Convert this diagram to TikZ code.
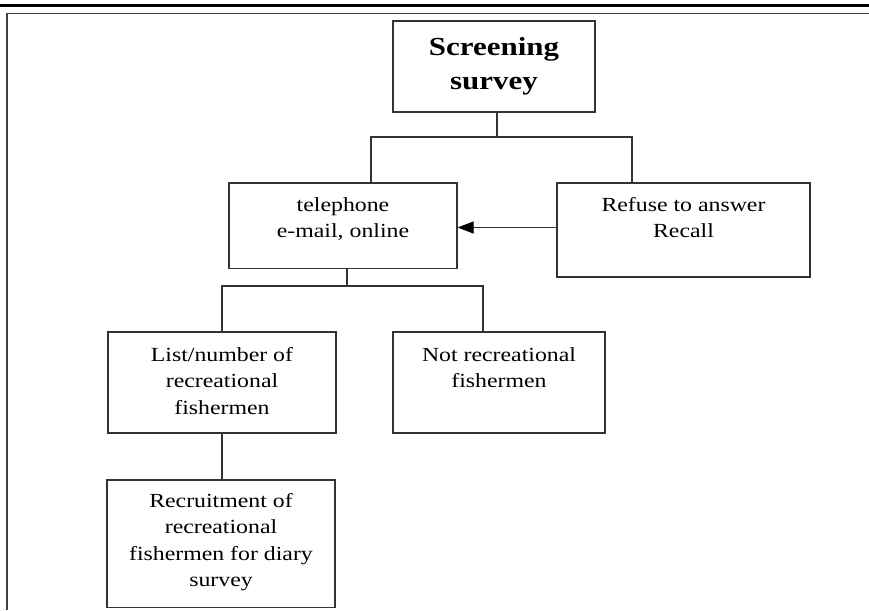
\documentclass[tikz,border=0pt]{standalone}
\usepackage{fontspec}
\setmainfont{Liberation Serif}[FakeStretch=1.19]
\usetikzlibrary{arrows.meta}
\tikzset{
  box/.style={draw=black!80, line width=1.2pt, rectangle, inner sep=0pt},
  txt/.style={inner sep=0pt, align=center, anchor=base, font=\fontsize{20}{26.5}\selectfont},
  ttl/.style={inner sep=0pt, align=center, anchor=base, font=\fontsize{26}{34}\selectfont\bfseries},
  conn/.style={draw=black!80, line width=1.2pt},
}
\begin{document}
\begin{tikzpicture}[x=1pt,y=-1pt]
\useasboundingbox (0,0) rectangle (869,610);
% frame lines
\draw[line width=3pt, black] (0,6) -- (869,6);
\draw[line width=1.3pt, black!75] (6.5,13.5) -- (869,13.5);
\draw[line width=1.3pt, black!75] (7,13) -- (7,610);
% boxes
\node[box, minimum width=202pt, minimum height=91pt] (scr) at (494,66.5) {};
\node[box, minimum width=228pt, minimum height=85.5pt] (tel) at (343,225.75) {};
\node[box, minimum width=253pt, minimum height=94pt] (ref) at (683.5,230) {};
\node[box, minimum width=228pt, minimum height=101pt] (lst) at (222,382.5) {};
\node[box, minimum width=212pt, minimum height=101pt] (nrc) at (499,382.5) {};
\node[box, minimum width=228pt, minimum height=127.5pt] (rec) at (221,543.75) {};
% texts (anchored at baseline of last line)
\node[ttl] (scrt) at (494,89) {Screening\\survey};
\node[txt] (telt) at (343,237.5) {telephone\\e-mail, online};
\node[txt] (reft) at (683.5,237.5) {Refuse to answer\\Recall};
\node[txt] (lstt) at (222,414) {List/number of\\recreational\\fishermen};
\node[txt] (nrct) at (499,387.5) {Not recreational\\fishermen};
\node[txt] (rect) at (221,586.5) {Recruitment of\\recreational\\fishermen for diary\\survey};
% connectors
\coordinate (j1) at (497,137);
\coordinate (j2) at (347,286);
\draw[conn] (scr.south -| j1) -- (j1);
\draw[conn] (tel.north -| 371,0) |- (j1) -| (ref.north -| 632,0);
\draw[conn] (tel.south -| j2) -- (j2);
\draw[conn] (lst.north) |- (j2) -| (nrc.north -| 483,0);
\draw[conn] (lst.south) -- (rec.north -| lst.south);
\draw[conn, -{Triangle[length=16pt,width=12pt,fill=black,color=black]}] (ref.west |- 0,227.5) -- (tel.east |- 0,227.5);
\end{tikzpicture}
\end{document}
